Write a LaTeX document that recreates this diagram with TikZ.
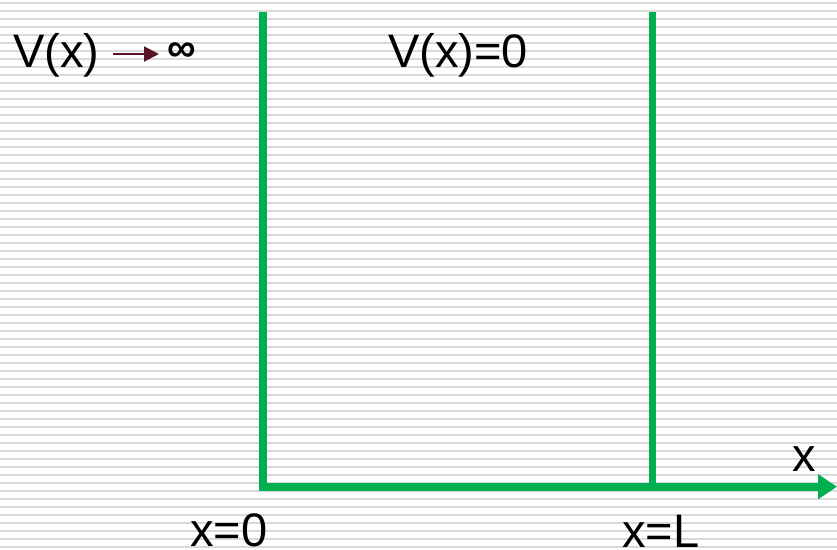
\documentclass[tikz,border=0pt]{standalone}
\usepackage{fontspec}
\setmainfont{Liberation Sans}
\usetikzlibrary{arrows.meta}
\definecolor{wallgreen}{RGB}{0,176,80}
\definecolor{maroon}{RGB}{90,20,40}
\definecolor{stripe}{RGB}{217,217,217}
\tikzset{
  lbl/.style={inner sep=0pt, anchor=base west, font=\fontsize{47}{56}\selectfont},
  wall/.style={draw=wallgreen, line width=7.8pt},
}
\begin{document}
\begin{tikzpicture}[x=1pt,y=-1pt]
\useasboundingbox (0,0) rectangle (837,549);
\fill[white] (0,0) rectangle (837,549);
% background stripes
\foreach \k in {0,...,68} {
  \fill[stripe] (0,{1.7+8*\k}) rectangle (837,{3.7+8*\k});
}
% walls and axis
\coordinate (top0) at (263,12);
\coordinate (o) at (263,486.7);
\coordinate (topL) at (652.5,12);
\coordinate (L) at (652.5,486.7);
\coordinate (xend) at (837,486.7);
\draw[wall] (topL) -- (L);
\draw[wall, line join=miter, -{Triangle[length=19pt,width=24pt]}] (top0) -- (o) -- (xend);
% labels
\node[lbl] (vleft) at (13,67) {V(x)};
\node[lbl] (vzero) at (388,67) {V(x)=0};
\node[lbl] (x0) at (190,546) {x=0};
\node[lbl] (xL) at (622,547) {x=L};
\node[lbl] (xax) at (792,471) {x};
\node[inner sep=0pt, font=\bfseries\fontsize{40}{48}\selectfont] (inf) at (182,51.7) {∞};
\coordinate (arrs) at (113,54);
\coordinate (arre) at (159,54);
\draw[maroon, line width=2pt, -{Triangle[length=15pt,width=15pt]}] (arrs) -- (arre);
\end{tikzpicture}
\end{document}
